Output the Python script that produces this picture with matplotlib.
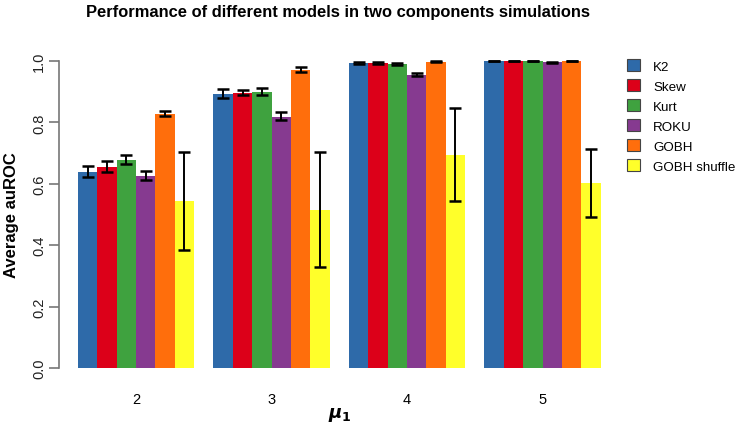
import matplotlib
matplotlib.use("Agg")
import matplotlib.pyplot as plt
from matplotlib.patches import Patch

plt.rcParams['font.family'] = ['Liberation Sans', 'DejaVu Sans']

groups = ["2", "3", "4", "5"]
models = ["K2", "Skew", "Kurt", "ROKU", "GOBH", "GOBH shuffle"]
colors = ["#2E6AA9", "#DC0019", "#3FA23F", "#863A90", "#FF6E0C", "#FFFF2A"]

# mean auROC per model (rows) and group (columns)
means = {
    "K2":           [0.638, 0.893, 0.994, 1.000],
    "Skew":         [0.654, 0.897, 0.993, 1.000],
    "Kurt":         [0.677, 0.900, 0.990, 1.000],
    "ROKU":         [0.625, 0.819, 0.956, 0.996],
    "GOBH":         [0.827, 0.971, 0.998, 1.000],
    "GOBH shuffle": [0.543, 0.515, 0.695, 0.603],
}
lower = {
    "K2":           [0.622, 0.879, 0.991, 0.999],
    "Skew":         [0.638, 0.889, 0.990, 0.999],
    "Kurt":         [0.663, 0.889, 0.986, 0.999],
    "ROKU":         [0.611, 0.809, 0.950, 0.993],
    "GOBH":         [0.820, 0.965, 0.997, 0.999],
    "GOBH shuffle": [0.385, 0.330, 0.543, 0.493],
}
upper = {
    "K2":           [0.657, 0.909, 0.997, 1.000],
    "Skew":         [0.673, 0.906, 0.996, 1.000],
    "Kurt":         [0.694, 0.913, 0.993, 1.000],
    "ROKU":         [0.643, 0.833, 0.962, 0.998],
    "GOBH":         [0.837, 0.979, 1.000, 1.000],
    "GOBH shuffle": [0.703, 0.702, 0.847, 0.714],
}

fig = plt.figure(figsize=(7.41, 4.27), dpi=100)
W, H = 741, 427
left_px, right_px, bot_px, top_px = 58.6, 620, 369, 62
ax = fig.add_axes([left_px / W, 1 - bot_px / H, (right_px - left_px) / W, (bot_px - top_px) / H])

n = len(models)
for gi, g in enumerate(groups):
    start = 1 + gi * (n + 1)
    for mi, m in enumerate(models):
        x = start + mi + 0.5
        v = means[m][gi]
        ax.bar(x, v, width=1.0, color=colors[mi], edgecolor='none', align='center')
        ax.errorbar(x, v, yerr=[[v - lower[m][gi]], [upper[m][gi] - v]], fmt='none',
                    ecolor='black', elinewidth=1.4, capsize=4.5, capthick=1.8, clip_on=False)

centers = [1 + gi * (n + 1) + n / 2 for gi in range(len(groups))]
ax.set_xlim(0, 29)
ax.set_ylim(0, 1)
ax.set_xticks(centers)
ax.set_xticklabels(groups, fontsize=10.5)
ax.tick_params(axis='x', length=0, pad=17)

yt = [0.0, 0.2, 0.4, 0.6, 0.8, 1.0]
ax.set_yticks(yt)
ax.set_yticklabels([f"{t:.1f}" for t in yt], rotation=90, va='center', fontsize=10.5, color='#222222')
ax.tick_params(axis='y', length=7, width=1.2, color='#777777', pad=2)

for s in ['top', 'right', 'bottom']:
    ax.spines[s].set_visible(False)
ax.spines['left'].set_color('#777777')
ax.spines['left'].set_linewidth(1.2)

ax.set_ylabel("Average auROC", fontsize=12, fontweight='bold', va='center')
ax.yaxis.set_label_coords((11 - left_px) / (right_px - left_px), 0.5)
ax.set_xlabel(r"$\boldsymbol{\mu}_\mathbf{1}$", fontsize=13)
ax.xaxis.set_label_coords((340 - left_px) / (right_px - left_px), -(415 - bot_px) / (bot_px - top_px))
ax.xaxis.label.set_va('center')

fig.text(338 / W, 1 - 13 / H, "Performance of different models in two components simulations",
         ha='center', va='center', fontsize=11.9, fontweight='bold')

handles = [Patch(facecolor=c, edgecolor='#444444', linewidth=0.8) for c in colors]
fig.legend(handles, models, loc='upper left', bbox_to_anchor=(622 / W, 1 - 55 / H),
           frameon=False, fontsize=9.6, handlelength=0.95, handleheight=0.95,
           labelspacing=0.5, handletextpad=1.0, borderaxespad=0)

fig.savefig("out.png", dpi=100)
